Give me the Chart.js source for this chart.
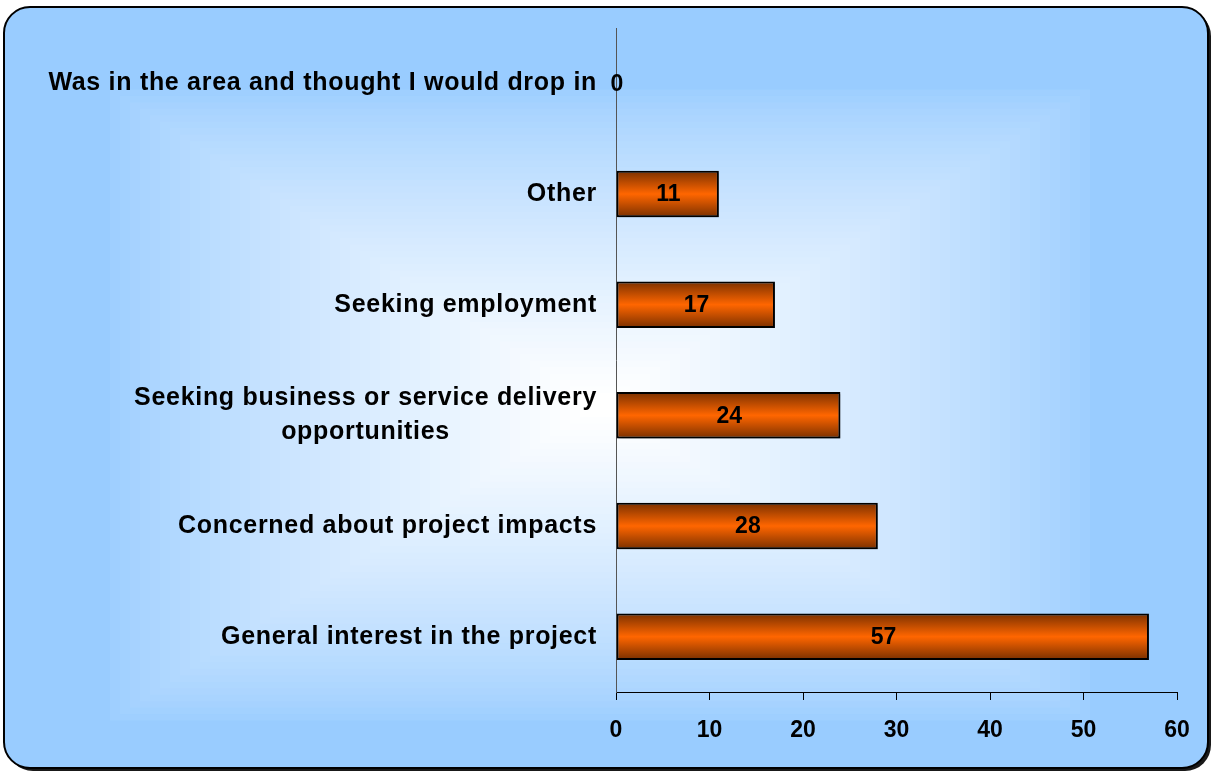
<!DOCTYPE html>
<html>
<head>
<meta charset="utf-8">
<script src="https://cdn.jsdelivr.net/npm/chart.js@4.4.1/dist/chart.umd.min.js"></script>
<style>
  html, body { margin: 0; padding: 0; background: #fff; }
  #wrap { width: 1212px; height: 772px; }
</style>
</head>
<body>
<div id="wrap"><canvas id="barChart"></canvas></div>
<script>
const categories = [
  "Was in the area and thought I would drop in",
  "Other",
  "Seeking employment",
  ["Seeking business or service delivery", "opportunities"],
  "Concerned about project impacts",
  "General interest in the project"
];
const counts = [0, 11, 17, 24, 28, 57];
const xTicks = [0, 10, 20, 30, 40, 50, 60];

const FAMILY = "'Liberation Sans', Arial, sans-serif";
const VALUE_FONT = "bold 23px " + FAMILY;
const CAT_FONT = "bold 25px " + FAMILY;

// rounded blue panel with a rectangular glow from the middle
const panel = {
  id: 'panel',
  beforeDraw(chart) {
    const ctx = chart.ctx;
    const x = 4, y = 7, w = 1204, h = 761, r = 26;
    ctx.save();
    ctx.fillStyle = '#fff';
    ctx.fillRect(0, 0, chart.width, chart.height);

    ctx.shadowColor = 'rgba(0,0,0,0.9)';
    ctx.shadowOffsetX = 3;
    ctx.shadowOffsetY = 3;
    ctx.beginPath();
    ctx.roundRect(x, y, w, h, r);
    ctx.fillStyle = '#99ccff';
    ctx.fill();
    ctx.shadowColor = 'transparent';

    ctx.save();
    ctx.clip();
    const cx = 600, cy = 405, hx = 480, hy = 310;
    const steps = 48;
    for (let i = 1; i <= steps; i++) {
      const t = i / steps;
      const k = Math.pow(t, 0.75);
      const rr = Math.round(153 + (255 - 153) * k);
      const gg = Math.round(204 + (255 - 204) * k);
      ctx.fillStyle = `rgb(${rr},${gg},255)`;
      const sx = hx * (1 - t) + 20, sy = hy * (1 - t) + 12;
      ctx.fillRect(cx - sx, cy - sy, sx * 2, sy * 2);
    }
    ctx.restore();

    ctx.lineWidth = 2;
    ctx.strokeStyle = '#000';
    ctx.beginPath();
    ctx.roundRect(x, y, w, h, r);
    ctx.stroke();
    ctx.restore();
  }
};

// category names, right aligned next to the axis, lines centred on each other
const catLabels = {
  id: 'catLabels',
  afterDraw(chart) {
    const ctx = chart.ctx;
    const ys = chart.scales.y;
    const right = chart.chartArea.left - 19;
    ctx.save();
    ctx.font = CAT_FONT;
    ctx.letterSpacing = '0.7px';
    ctx.fillStyle = '#000';
    ctx.textBaseline = 'middle';
    ctx.textAlign = 'center';
    categories.forEach((lab, i) => {
      const lines = Array.isArray(lab) ? lab : [lab];
      const wMax = Math.max(...lines.map(l => ctx.measureText(l).width));
      const cx = right - wMax / 2;
      const yc = ys.getPixelForValue(i);
      const lh = 34;
      lines.forEach((l, k) => {
        ctx.fillText(l, cx, yc + (k - (lines.length - 1) / 2) * lh);
      });
    });
    ctx.restore();
  }
};

// value printed in the middle of each bar
const valueLabels = {
  id: 'valueLabels',
  afterDatasetsDraw(chart) {
    const ctx = chart.ctx;
    const xs = chart.scales.x, ys = chart.scales.y;
    ctx.save();
    ctx.font = VALUE_FONT;
    ctx.fillStyle = '#000';
    ctx.textAlign = 'center';
    ctx.textBaseline = 'middle';
    counts.forEach((v, i) => {
      const x = (xs.getPixelForValue(0) + xs.getPixelForValue(v)) / 2;
      ctx.fillText(String(v), x + 1, ys.getPixelForValue(i) + 1);
    });
    ctx.restore();
  }
};

// soft shadow under the bars
const barShadow = {
  id: 'barShadow',
  beforeDatasetsDraw(chart) {
    const ctx = chart.ctx;
    ctx.save();
    ctx.shadowColor = 'rgba(0,0,0,0.35)';
    ctx.shadowOffsetX = 2;
    ctx.shadowOffsetY = 2;
    ctx.shadowBlur = 2;
  },
  afterDatasetsDraw(chart) {
    chart.ctx.restore();
  }
};

function barFill(context) {
  const chart = context.chart;
  const ys = chart.scales.y;
  if (!chart.chartArea || !ys) return '#ff6600';
  const yc = ys.getPixelForValue(context.dataIndex);
  const half = (ys.bottom - ys.top) / categories.length * 0.42 / 2;
  const g = chart.ctx.createLinearGradient(0, yc - half, 0, yc + half);
  g.addColorStop(0, '#7a3000');
  g.addColorStop(0.5, '#ff6600');
  g.addColorStop(1, '#7a3000');
  return g;
}

new Chart(document.getElementById('barChart'), {
  type: 'bar',
  data: {
    labels: categories,
    datasets: [{
      data: counts,
      backgroundColor: barFill,
      borderColor: '#000',
      borderWidth: 2,
      borderSkipped: false,
      barPercentage: 0.42,
      categoryPercentage: 1
    }]
  },
  plugins: [panel, barShadow, valueLabels, catLabels],
  options: {
    indexAxis: 'y',
    responsive: true,
    maintainAspectRatio: false,
    animation: false,
    layout: { padding: { top: 28, right: 35, left: 0, bottom: 0 } },
    plugins: { legend: { display: false }, tooltip: { enabled: false } },
    scales: {
      x: {
        min: 0,
        max: 60,
        afterBuildTicks(scale) {
          scale.ticks = xTicks.map(v => ({ value: v }));
        },
        afterFit(scale) { scale.height = 80; },
        grid: {
          drawOnChartArea: false,
          drawTicks: true,
          tickLength: 8,
          color: '#000',
          lineWidth: 1
        },
        border: { display: true, color: '#000', width: 1 },
        ticks: {
          color: '#000',
          padding: 17,
          font: { family: FAMILY, size: 23, weight: 'bold' }
        }
      },
      y: {
        afterFit(scale) { scale.width = 616; },
        grid: { display: false },
        border: { display: true, color: '#555', width: 1 },
        ticks: { display: false }
      }
    }
  }
});
</script>
</body>
</html>
